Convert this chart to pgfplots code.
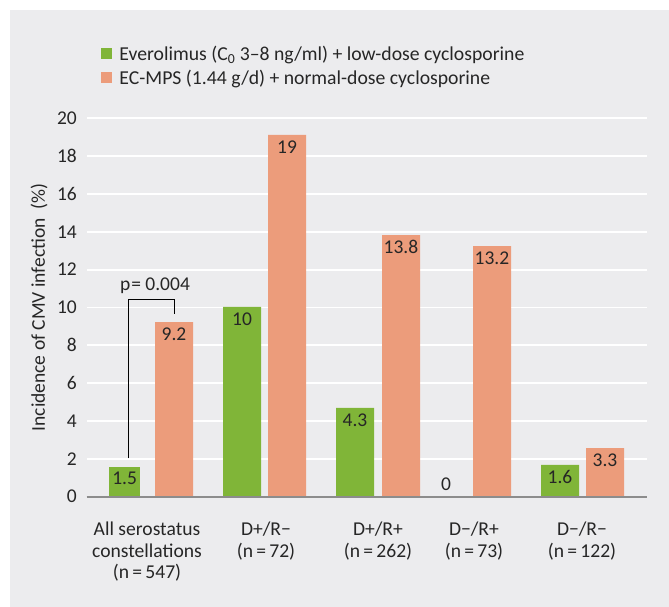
\documentclass[border=0pt]{standalone}
\usepackage{fontspec}
\setmainfont{Carlito}
\usepackage{pgfplots}
\pgfplotsset{compat=1.18}
\definecolor{bg}{HTML}{ECECEE}
\definecolor{evgreen}{HTML}{80B538}
\definecolor{mpsorange}{HTML}{EC9C7B}
\definecolor{txt}{HTML}{262626}
\definecolor{axgray}{HTML}{8C8C8C}
\newcommand\f{\fontsize{19.5}{22}\selectfont}
\newcommand\fl{\fontsize{19.7}{22}\selectfont}
\newcommand\fx{\fontsize{19.6}{21.5}\selectfont}
\begin{document}
\begin{tikzpicture}[x=1pt,y=1pt]
\path[use as bounding box] (0,0) rectangle (669,-607);
\fill[bg] (10,-10) rectangle (669,-607);
\begin{axis}[
 at={(86.7pt,-496.7pt)}, anchor=south west,
 scale only axis, width=560pt, height=378.4pt,
 xmin=86.7, xmax=646.7, ymin=0, ymax=20,
 clip=false,
 axis line style={draw=none},
 major tick length=0pt,
 ytick={0,2,...,20},
 ymajorgrids, grid style={white, line width=1.7pt},
 xtick={147,266,378,474,582},
 xticklabels={{All serostatus\\constellations\\(n\,=\,547)},{D+/R−\\(n\,=\,72)},{D+/R+\\(n\,=\,262)},{D−/R+\\(n\,=\,73)},{D−/R−\\(n\,=\,122)}},
 /pgf/number format/assume math mode=true,
 yticklabel style={font=\f, text=txt, inner sep=0pt, xshift=-9.7pt},
 xticklabel style={font=\fx, text=txt, align=center, inner sep=0pt, anchor=north, yshift=-25pt},
 ylabel={Incidence of CMV infection\ \ (\%)},
 every axis y label/.style={at={(axis description cs:-0.0852,0.5)}, rotate=90, anchor=center, font=\f, text=txt},
 legend style={at={(axis description cs:0,1)}, anchor=north west, xshift=14pt, yshift=72.3pt,
   draw=none, fill=none, inner sep=0pt, row sep=5pt, column sep=7.6pt, font=\fl, text=txt,
   nodes={inner sep=0pt, text height=14pt, text depth=5pt, anchor=base west}},
 legend cell align=left,
]
% Everolimus bars
\addplot[ybar, bar width=38, bar shift=0pt, fill=evgreen, draw=none,
  legend image code/.code={\fill[evgreen] (0pt,1pt) rectangle (11pt,12pt);},
  nodes near coords, point meta=explicit symbolic, nodes near coords align={center},
  nodes near coords style={anchor=center, yshift=-12pt, font=\f, text=txt}]
  table[meta=lab] {
x y lab
242 10.03 10
355 4.69 4.3
560 1.68 1.6
};
\addlegendentry{Everolimus (C\textsubscript{0} 3–8 ng/ml) + low-dose cyclosporine}
% EC-MPS bars
\addplot[ybar, bar width=38, bar shift=0pt, fill=mpsorange, draw=none,
  legend image code/.code={\fill[mpsorange] (0pt,1pt) rectangle (11pt,12pt);},
  nodes near coords, point meta=explicit symbolic, nodes near coords align={center},
  nodes near coords style={anchor=center, yshift=-12pt, font=\f, text=txt}]
  table[meta=lab] {
x y lab
174 9.23 9.2
287 19.12 19
401 13.83 13.8
492 13.25 13.2
605 2.57 3.3
};
\addlegendentry{EC-MPS (1.44 g/d) + normal-dose cyclosporine}
% first (narrower) Everolimus bar
\addplot[ybar, bar width=30.7, bar shift=0pt, fill=evgreen, draw=none, forget plot,
  nodes near coords, point meta=explicit symbolic, nodes near coords align={center},
  nodes near coords style={anchor=center, yshift=-12pt, font=\f, text=txt}]
  table[meta=lab] {
x y lab
124.65 1.59 1.5
};
% zero bar (label only)
\addplot[ybar, bar width=38, bar shift=0pt, fill=none, draw=none, forget plot,
  nodes near coords, point meta=explicit symbolic, nodes near coords align={center},
  nodes near coords style={anchor=center, yshift=12.7pt, font=\f, text=txt}]
  table[meta=lab] {
x y lab
446 0 0
};
\draw[axgray, line width=2.3pt] (axis cs:86.7,0) -- (axis cs:646.7,0);
\draw[black, line width=1pt] (axis cs:128.3,2.03) -- (axis cs:128.3,10.40) -- (axis cs:174,10.40) -- (axis cs:174,9.66);
\node[font=\f, text=txt, anchor=center] at (axis cs:155,11.14) {p\kern1pt=\ 0.004};
\end{axis}
\end{tikzpicture}
\end{document}
